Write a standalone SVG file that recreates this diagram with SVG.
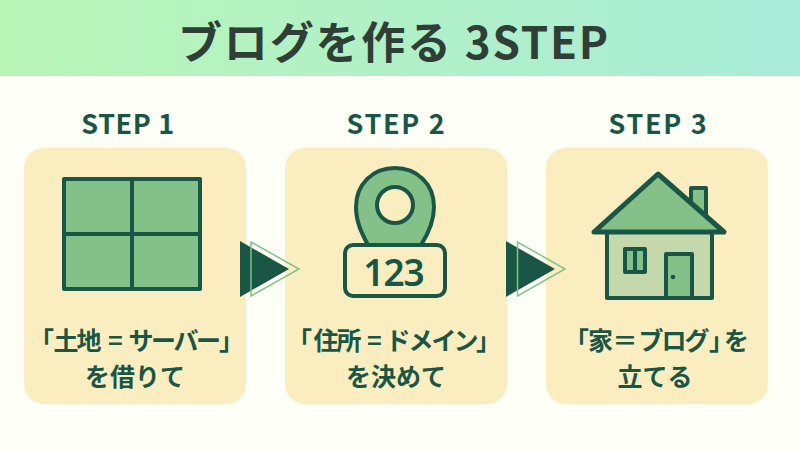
<svg xmlns="http://www.w3.org/2000/svg" width="800" height="450" viewBox="0 0 800 450">
<defs>
<linearGradient id="hdr" x1="0" y1="0" x2="1" y2="0"><stop offset="0" stop-color="#b9f5b6"/><stop offset="1" stop-color="#a8ecd9"/></linearGradient>
</defs>
<style>
text{font-family:"Noto Sans CJK JP","Noto Sans",sans-serif;font-weight:700;text-anchor:middle;fill:#1a5645}
.title{font-size:44px;fill:#2f3e36;letter-spacing:1.800px}
.step{font-size:27px;letter-spacing:.6px}
.wide{letter-spacing:1.700px}
.cap{font-size:25px}
.l{font-size:25px;text-anchor:start}
.card{fill:#faedc0}
.ic{stroke:#1a5645;stroke-width:4;stroke-linejoin:round;fill:#84c188}
.dark{fill:#1a5645}
.out{fill:none;stroke:#84c188;stroke-width:1.500}
</style>
<rect width="800" height="450" fill="#fefff7"/>
<rect width="800" height="76" fill="url(#hdr)"/>
<text class="title" x="394" y="59">ブログを作る 3STEP</text>
<g id="step1">
<text class="step" x="128" y="134">STEP 1</text>
<rect class="card" x="24" y="148" width="222" height="256" rx="20"/>
<rect class="ic" x="64" y="179" width="136" height="110"/>
<path class="ic" d="M132 179V289M64 234H200"/>
<text class="l" y="350" x="29 53.500 76.500 108 128.500 151 173.500 196 219">「土地=サーバー」</text>
<text class="cap" x="135" y="386">を借りて</text>
</g>
<g id="step2">
<text class="step wide" x="396.500" y="134">STEP 2</text>
<rect class="card" x="285" y="148" width="222" height="256" rx="20"/>
<path class="ic" d="M368 245C362 234 356 222 356 207C356 184 373 168 395 168C417 168 434 184 434 207C434 222 428 234 421 245Z"/>
<circle class="ic" cx="395" cy="205" r="18" style="fill:#faedc0"/>
<rect class="ic" x="345" y="245" width="100" height="51" rx="8" style="fill:#faedc0"/>
<text x="393.500" y="286" font-size="37" letter-spacing="-1" style="font-family:'Noto Sans',sans-serif;font-weight:600">123</text>
<text class="l" y="350" x="287 313.500 336.500 367 385.500 408.500 431.500 453.500 476">「住所=ドメイン」</text>
<text class="cap" x="396" y="386">を決めて</text>
</g>
<g id="step3">
<text class="step wide" x="658.500" y="134">STEP 3</text>
<rect class="card" x="546" y="148" width="222" height="256" rx="20"/>
<rect class="ic" x="691" y="188" width="15" height="40"/>
<rect class="ic" x="607" y="232" width="105" height="66" style="fill:#c5d8ac"/>
<path class="ic" d="M658 174L724 232H594Z" style="stroke-width:5"/>
<rect class="ic" x="625" y="249" width="20" height="23"/>
<path class="ic" d="M635 249V272"/>
<rect class="ic" x="666" y="254" width="26" height="44"/>
<circle class="dark" cx="673" cy="277" r="2.300"/>
<text class="l" y="350" x="564 588 612.500 638.500 661.500 684.500 709 724">「家＝ブログ」を</text>
<text class="cap" x="655" y="386">立てる</text>
</g>
<g id="connectors">
<path class="dark" d="M240 241V297L289 269Z"/>
<path class="out" d="M251 242V296L299 269Z"/>
<path class="dark" d="M506 241V297L555 269Z"/>
<path class="out" d="M517.500 242V296L565 269Z"/>
</g>
</svg>
